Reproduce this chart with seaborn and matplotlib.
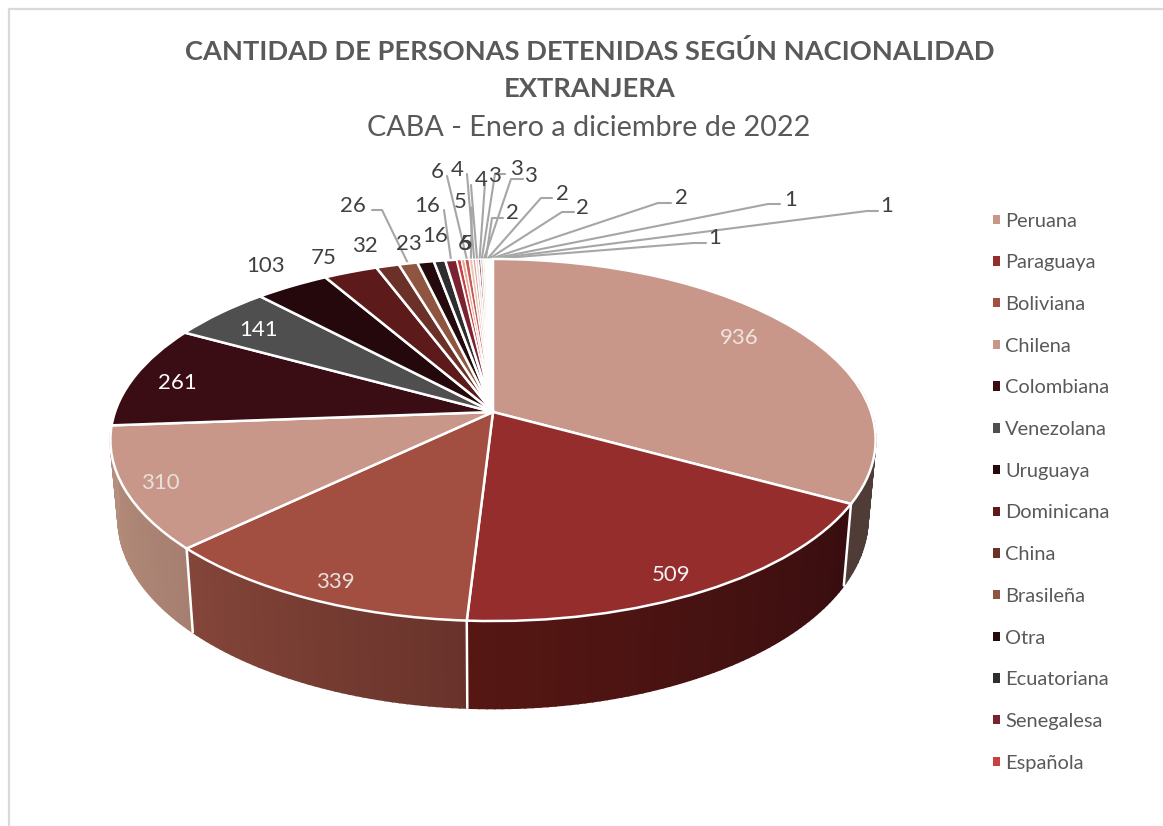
# cantidad de personas detenidas, pie 3d con perspectiva
import numpy as np
import matplotlib
matplotlib.use("Agg")
import matplotlib.pyplot as plt
from matplotlib.colors import to_rgb
from matplotlib.patches import Patch
from matplotlib.path import Path
from matplotlib.transforms import Transform
import seaborn as sns

sns.set_theme(style="white")
plt.rcParams["font.family"] = ["Lato", "DejaVu Sans"]

nacionalidades = ["Peruana", "Paraguaya", "Boliviana", "Chilena", "Colombiana", "Venezolana",
                  "Uruguaya", "Dominicana", "China", "Brasileña", "Otra", "Ecuatoriana",
                  "Senegalesa", "Española"]
detenidos = [936, 509, 339, 310, 261, 141, 103, 75, 32, 26, 23, 16, 16,
             6, 5, 6, 5, 4, 4, 3, 3, 3, 2, 2, 2, 2, 1, 1, 1]
colores = ["#C8978A", "#952D2D", "#A24F41", "#C8978A", "#3A0D14", "#4F4F4F", "#24080C",
           "#5C1A1A", "#6B3028", "#8F5540", "#240A0C", "#2E2E2E", "#7B2230", "#C94040",
           "#E6A79A", "#C75B4E", "#EBC4B8", "#DBA99B", "#F0DAD2", "#8B3A4A", "#C9B0B0",
           "#F5E5E0", "#FBF3F0", "#FDF8F6", "#FEFBFA", "#FFFFFF", "#FFFFFF", "#FFFFFF", "#FFFFFF"]
# color de la pared lateral: (derecha, izquierda)
paredes = {0: ("#4F3C36", "#4F3C36"), 1: ("#380D10", "#561713"),
           2: ("#69332B", "#85463A"), 3: ("#A67F70", "#B68F7E")}

# geometria de la perspectiva, en pixeles
cx, cy, A, B, k = 493, 412, 378, 176.7, 0.1547


def proyectar(u, v):
    w = 1 + k * v
    return cx + A * u / w, cy - B * v / w


def borde(theta):
    t = np.radians(theta)
    return proyectar(np.cos(t), np.sin(t))


def base(x, y):
    return cx + (x - cx) * 0.98, cy + 77 + (y - cy) * 1.05


class Perspectiva(Transform):
    input_dims = 2
    output_dims = 2

    def transform_non_affine(self, values):
        x, y = proyectar(values[:, 0], values[:, 1])
        return np.column_stack([x, y])

    def transform_path_non_affine(self, path):
        return Path(self.transform_non_affine(path.vertices), path.codes)


fig = plt.figure(figsize=(11.63, 8.26), dpi=100)
ax = fig.add_axes([0, 0, 1, 1])

wedges, _ = ax.pie(detenidos, colors=sns.color_palette(colores), startangle=90, counterclock=False,
                   wedgeprops={"edgecolor": "white", "linewidth": 1.8, "zorder": 5})
ax.set_aspect("auto")
ax.set_xlim(0, 1163)
ax.set_ylim(826, 0)
ax.axis("off")
for i, w in enumerate(wedges):
    w.set_transform(Perspectiva() + ax.transData)
    if i >= 13:
        w.set_linewidth(0.9)

# paredes del cilindro
for i, (der, izq) in paredes.items():
    t1, t2 = wedges[i].theta1, wedges[i].theta2
    angs = np.append(np.arange(min(t2, 10), t1, -1.0), t1)
    c1, c2 = np.array(to_rgb(der)), np.array(to_rgb(izq))
    for j in range(len(angs) - 1):
        x0, y0 = borde(angs[j])
        x1, y1 = borde(angs[j + 1])
        bx0, by0 = base(x0, y0)
        bx1, by1 = base(x1, y1)
        col = c1 + (c2 - c1) * j / max(len(angs) - 2, 1)
        ax.fill([x0, x1, bx1, bx0], [y0, y1, by1, by0], color=col, lw=1.2, zorder=2)

# lineas blancas entre paredes
for i in [0, 1, 2]:
    x0, y0 = borde(wedges[i].theta1)
    bx, by = base(x0, y0)
    ax.plot([x0, bx], [y0, by], color="white", lw=1.8, zorder=3)

# etiquetas dentro del pie
etiquetas_dentro = {0: (739, 338, "#F0E4E0"), 1: (671, 575, "#F2F2F2"), 2: (335, 582, "#E8E0DC"),
                    3: (160, 483, "#E8E0DC"), 4: (177, 383, "#FFFFFF"), 5: (259, 330, "#FFFFFF")}
for i, (x, y, c) in etiquetas_dentro.items():
    ax.text(x, y, str(detenidos[i]), color=c, fontsize=16, ha="center", va="center", zorder=8)

# etiquetas fuera, con lineas guia
etiquetas_fuera = {6: (266, 266), 7: (324, 258), 8: (365, 246), 9: (353, 206), 10: (409, 244),
                   11: (435, 236), 12: (427, 206), 13: (464, 244), 14: (466, 244), 15: (437, 172),
                   16: (460, 202), 17: (457, 170), 18: (481, 180), 19: (494, 176), 20: (516, 169),
                   21: (530, 176), 22: (512, 213), 23: (562, 194), 24: (582, 208), 25: (681, 198),
                   26: (791, 200), 27: (887, 206), 28: (715, 238)}
guias = {9: [(372, 210), (382, 210)], 12: [(444, 210)], 15: [(447, 176)], 16: [(472, 207)],
         17: [(467, 174)], 18: [(471, 185)], 19: [(485, 183)], 20: [(505, 174), (495, 174)],
         21: [(523, 179), (511, 179)], 22: [(503, 218), (492, 218)], 23: [(552, 198), (541, 198)],
         24: [(574, 212), (562, 212)], 25: [(671, 203), (658, 203)], 26: [(780, 204), (768, 204)],
         27: [(878, 211), (867, 211)], 28: [(706, 243), (693, 243)]}
for i, (x, y) in etiquetas_fuera.items():
    ax.text(x, y, str(detenidos[i]), color="#404040", fontsize=16, ha="center", va="center", zorder=8)
    if i in guias:
        tm = (wedges[i].theta1 + wedges[i].theta2) / 2
        ex, ey = borde(tm)
        pts = guias[i] + [(ex, ey)]
        ax.plot([p[0] for p in pts], [p[1] for p in pts], color="#A6A6A6", lw=1.5, zorder=4)

# marco del grafico
ax.plot([9, 9, 1163], [826, 9, 9], color="#D9D9D9", lw=1.6, zorder=1)

ax.text(590, 51, "CANTIDAD DE PERSONAS DETENIDAS SEGÚN NACIONALIDAD", color="#595959",
        fontsize=19.6, fontweight="bold", ha="center", va="center")
ax.text(590, 89, "EXTRANJERA", color="#595959", fontsize=19.6, fontweight="bold", ha="center", va="center")
ax.text(589, 128, "CABA - Enero a diciembre de 2022", color="#595959", fontsize=20.7, ha="center", va="center")

handles = [Patch(facecolor=c, edgecolor="none") for c in colores[:14]]
ax.legend(handles, nacionalidades, loc="upper left", bbox_to_anchor=(993 / 1163, 1 - 212.5 / 826),
          frameon=False, fontsize=14.4, labelcolor="#595959", handlelength=0.35, handleheight=0.35,
          handletextpad=0.25, labelspacing=1.235, borderpad=0, borderaxespad=0)

fig.savefig("out.png", dpi=100)
